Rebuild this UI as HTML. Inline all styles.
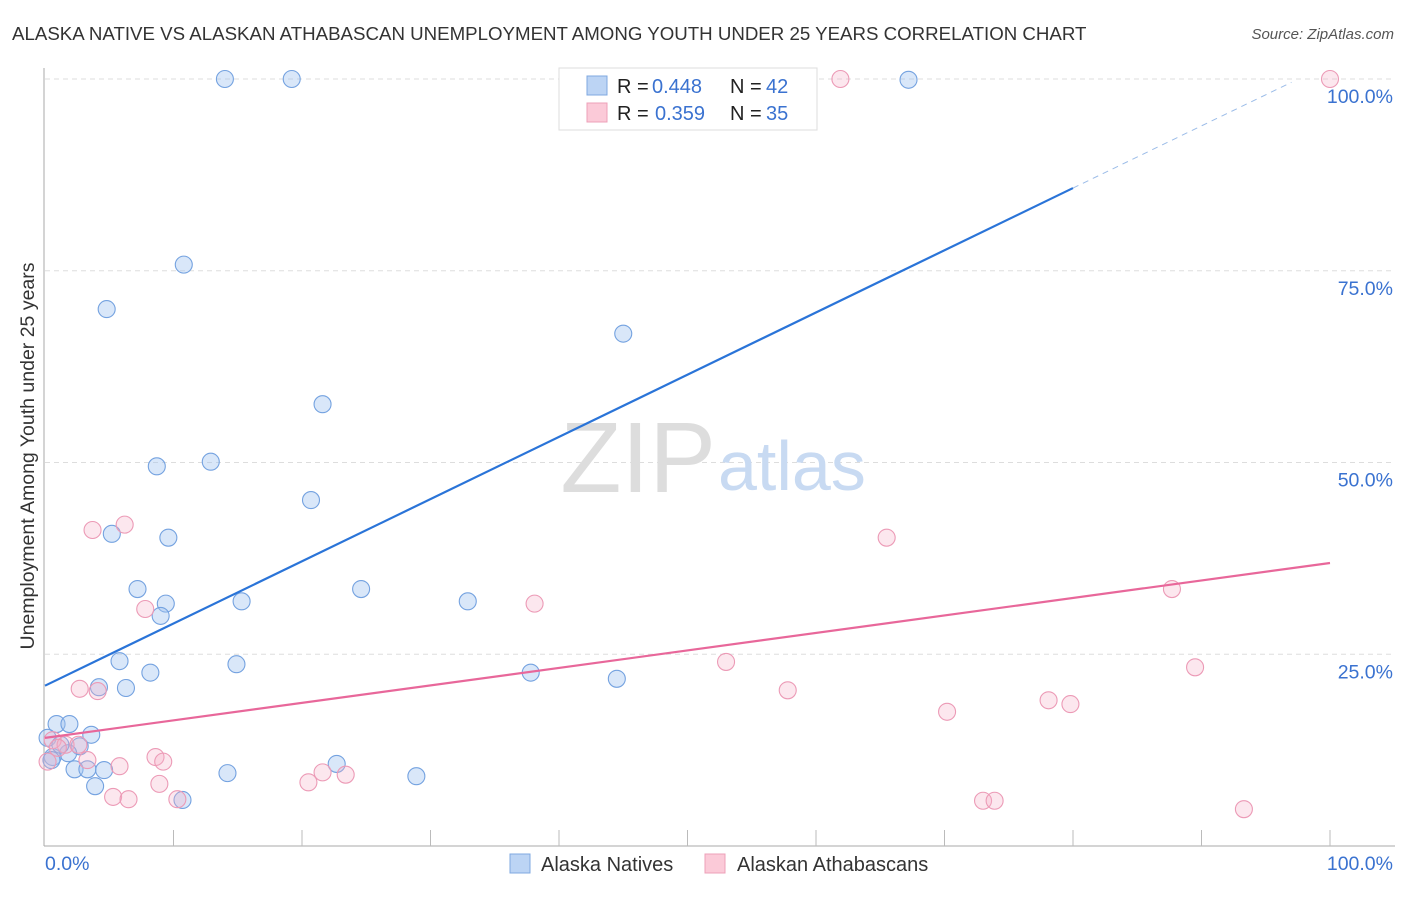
<!DOCTYPE html>
<html><head><meta charset="utf-8"><style>
body{margin:0;background:#fff;font-family:"Liberation Sans",sans-serif}
svg text{font-family:"Liberation Sans",sans-serif}
</style></head><body>
<svg id="c" width="1406" height="892">
<text x="12" y="40" font-size="18.7" fill="#333">ALASKA NATIVE VS ALASKAN ATHABASCAN UNEMPLOYMENT AMONG YOUTH UNDER 25 YEARS CORRELATION CHART</text>
<text x="1394" y="39" font-size="15" fill="#555" text-anchor="end" font-style="italic">Source: ZipAtlas.com</text>
<text x="34" y="456" font-size="19.5" fill="#333" text-anchor="middle" transform="rotate(-90 34 456)">Unemployment Among Youth under 25 years</text>
<g id="grid"></g>
<text x="716" y="492" font-size="100" fill="#ddd" text-anchor="end" font-family="Liberation Serif">ZIP</text>
<text x="718" y="490" font-size="70" fill="#c8daf2">atlas</text>
<g id="pts"></g>
<g id="lines"></g>
<g>
<rect x="559" y="68" width="258" height="62" fill="#fff" stroke="#ddd"/>
<rect x="587" y="76" width="20" height="19" fill="#bcd4f4" stroke="#7fa8e0"/>
<rect x="587" y="103" width="20" height="19" fill="#fbcad8" stroke="#eea0b8"/>
<text y="93" font-size="20" fill="#222"><tspan x="617">R =</tspan><tspan x="652" fill="#3a72d0">0.448</tspan><tspan x="730">N =</tspan><tspan x="766" fill="#3a72d0">42</tspan></text>
<text y="120" font-size="20" fill="#222"><tspan x="617">R =</tspan><tspan x="655" fill="#3a72d0">0.359</tspan><tspan x="730">N =</tspan><tspan x="766" fill="#3a72d0">35</tspan></text>
</g>
<g>
<rect x="510" y="854" width="20" height="19" fill="#bcd4f4" stroke="#7fa8e0"/>
<text x="541" y="871" font-size="20" fill="#333">Alaska Natives</text>
<rect x="705" y="854" width="20" height="19" fill="#fbcad8" stroke="#eea0b8"/>
<text x="737" y="871" font-size="20" fill="#333">Alaskan Athabascans</text>
</g>
<text x="45" y="870" font-size="19.5" fill="#3a72d0">0.0%</text>
<text x="1393" y="870" font-size="19.5" fill="#3a72d0" text-anchor="end">100.0%</text>
</svg>
<script>
const yTicks=[25,50,75,100];
const yTickLabels=["25.0%","50.0%","75.0%","100.0%"];
const blueX=[14.0,19.2,67.2,10.8,4.8,45.0,21.6,8.7,12.9,20.7,5.2,9.6,7.2,24.6,9.4,15.3,32.9,9.0,5.8,14.9,8.2,37.8,44.5,4.2,6.3,0.9,1.9,3.6,2.7,1.8,0.6,2.3,3.3,4.6,14.2,22.7,3.9,28.9,10.7,0.2,1.2,0.5];
const blueY=[100,100,99.9,75.8,70.0,66.8,57.6,49.5,50.1,45.1,40.7,40.2,33.5,33.5,31.6,31.9,31.9,30.0,24.1,23.7,22.6,22.6,21.8,20.7,20.6,15.9,15.9,14.5,13.0,12.1,11.6,10.0,10.0,9.9,9.5,10.7,7.8,9.1,6.0,14.1,13.2,11.2];
const pinkX=[61.9,100,6.2,3.7,65.5,7.8,38.1,87.7,2.7,4.1,53.0,57.8,89.5,70.2,78.1,79.8,0.6,1.6,2.6,3.3,0.2,8.6,9.2,5.8,21.6,23.4,8.9,20.5,5.3,6.5,10.3,73.0,73.9,93.3,1.0];
const pinkY=[100,100,41.9,41.2,40.2,30.9,31.6,33.5,20.5,20.2,24.0,20.3,23.3,17.5,19.0,18.5,13.8,13.2,13.2,11.2,11.0,11.6,11.0,10.4,9.6,9.3,8.1,8.3,6.4,6.1,6.1,5.9,5.9,4.8,12.8];
const blueFit=[20.9,0.811];
const pinkFit=[14.1,0.228];
const NS='http://www.w3.org/2000/svg';
const X=v=>45+v*12.85, Y=v=>846-v*7.67;
function mk(t,a,p){const e=document.createElementNS(NS,t);for(const k in a)e.setAttribute(k,a[k]);p.appendChild(e);return e;}
const g=document.getElementById('grid');
yTicks.forEach((t,i)=>{
 const l=mk('line',{x1:45,x2:1395,y1:Y(t),y2:Y(t),stroke:'#ddd','stroke-dasharray':'5,4'},g);
 
 
 const tx=mk('text',{x:1393,y:Y(t)+24,'font-size':19.5,fill:'#3a72d0','text-anchor':'end'},g);
 tx.textContent=yTickLabels[i];
 
 
});
mk('line',{x1:44,x2:44,y1:68,y2:846,stroke:'#aaa'},g);
mk('line',{x1:44,x2:1395,y1:846,y2:846,stroke:'#aaa'},g);
for(let i=1;i<=10;i++){const t=mk('line',{x1:X(i*10),x2:X(i*10),y1:830,y2:846,stroke:'#bbb'},g);
 
 }
const p=document.getElementById('pts');
blueX.forEach((x,i)=>{const c=mk('circle',{cx:X(x),cy:Y(blueY[i]),r:8.5,fill:'rgba(160,195,240,0.4)',stroke:'#74a2e0','stroke-width':1.1},p);
 
 });
pinkX.forEach((x,i)=>{const c=mk('circle',{cx:X(x),cy:Y(pinkY[i]),r:8.5,fill:'rgba(245,175,200,0.3)',stroke:'#ec9ab6','stroke-width':1.1},p);
 
 });
const L=document.getElementById('lines');
const f=(fit,x)=>fit[0]+fit[1]*x;
let b1=mk('line',{x1:X(0),y1:Y(f(blueFit,0)),x2:X(80),y2:Y(f(blueFit,80)),stroke:'#2a74d8','stroke-width':2.2},L);


let b2=mk('line',{x1:X(80),y1:Y(f(blueFit,80)),x2:X(97),y2:Y(f(blueFit,97)),stroke:'#9bbce8','stroke-width':1,'stroke-dasharray':'6,5'},L);


let p1=mk('line',{x1:X(0),y1:Y(f(pinkFit,0)),x2:X(100),y2:Y(f(pinkFit,100)),stroke:'#e8679a','stroke-width':2.2},L);


</script>
</body></html>
